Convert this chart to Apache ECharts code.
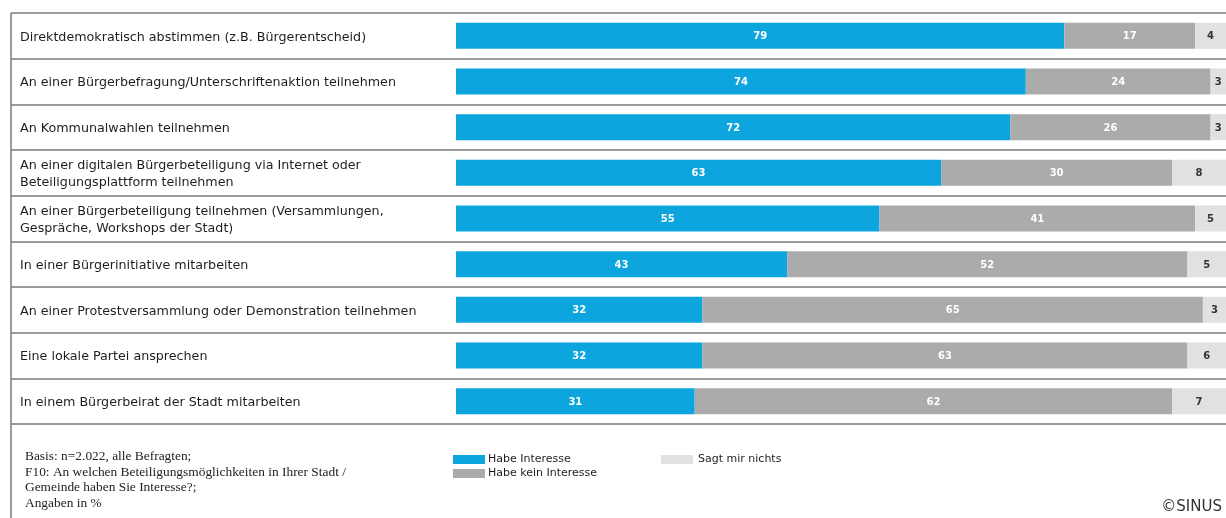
<!DOCTYPE html>
<html>
<head>
<meta charset="utf-8">
<title>Beteiligungsmöglichkeiten</title>
<script src="https://cdn.jsdelivr.net/npm/echarts@6/dist/echarts.min.js"></script>
<style>
  html, body { margin: 0; padding: 0; background: #ffffff; }
  #chart { width: 1226px; height: 518px; }
</style>
</head>
<body>
<div id="chart"></div>
<script>
// Beteiligungsformen (top to bottom)
const categories = [
  'Direktdemokratisch abstimmen (z.B. Bürgerentscheid)',
  'An einer Bürgerbefragung/Unterschriftenaktion teilnehmen',
  'An Kommunalwahlen teilnehmen',
  'An einer digitalen Bürgerbeteiligung via Internet oder\nBeteiligungsplattform teilnehmen',
  'An einer Bürgerbeteiligung teilnehmen (Versammlungen,\nGespräche, Workshops der Stadt)',
  'In einer Bürgerinitiative mitarbeiten',
  'An einer Protestversammlung oder Demonstration teilnehmen',
  'Eine lokale Partei ansprechen',
  'In einem Bürgerbeirat der Stadt mitarbeiten'
];

// Angaben in %
const habeInteresse = [79, 74, 72, 63, 55, 43, 32, 32, 31];
const habeKeinInteresse = [17, 24, 26, 30, 41, 52, 65, 63, 62];
const sagtMirNichts = [4, 3, 3, 8, 5, 5, 3, 6, 7];

const seriesNames = ['Habe Interesse', 'Habe kein Interesse', 'Sagt mir nichts'];

const footnote = [
  'Basis: n=2.022, alle Befragten;',
  'F10: An welchen Beteiligungsmöglichkeiten in Ihrer Stadt /',
  'Gemeinde haben Sie Interesse?;',
  'Angaben in %'
];

const BLUE = '#0ca5de';
const GREY = '#ababab';
const LIGHT = '#e1e1e1';
const SANS = '"DejaVu Sans", Verdana, sans-serif';
const SERIF = '"Liberation Serif", "DejaVu Serif", serif';

const chart = echarts.init(document.getElementById('chart'), null, { renderer: 'canvas' });

function barSeries(name, data, color, labelColor) {
  return {
    name: name,
    type: 'bar',
    stack: 'total',
    xAxisIndex: 1,
    yAxisIndex: 1,
    barWidth: 26,
    data: data,
    itemStyle: { color: color },
    label: {
      show: true,
      position: 'inside',
      offset: [0, 1],
      color: labelColor,
      fontFamily: SANS,
      fontSize: 10,
      fontWeight: 'bold'
    },
    emphasis: { disabled: true },
    animation: false
  };
}

chart.setOption({
  animation: false,
  grid: [
    // full-width row frame with the separator lines
    { left: 11, right: 0, top: 13, bottom: 94, containLabel: false },
    // bar area
    { left: 456, right: -1, top: 13, bottom: 94, containLabel: false },
    // row labels, set a touch lower than the frame
    { left: 11, right: 0, top: 14.5, bottom: 92.5, containLabel: false }
  ],
  xAxis: [
    { gridIndex: 0, type: 'value', min: 0, max: 1, show: false },
    { gridIndex: 1, type: 'value', min: 0, max: 100, show: false },
    { gridIndex: 2, type: 'value', min: 0, max: 1, show: false }
  ],
  yAxis: [
    {
      gridIndex: 0,
      type: 'category',
      inverse: true,
      data: categories,
      axisLine: { show: false },
      axisTick: { show: false },
      axisLabel: { show: false },
      splitLine: {
        show: true,
        showMinLine: true,
        showMaxLine: true,
        lineStyle: { color: '#7a7a7a', width: 1.5 }
      }
    },
    {
      gridIndex: 1,
      type: 'category',
      inverse: true,
      data: categories,
      show: false
    },
    {
      gridIndex: 2,
      type: 'category',
      inverse: true,
      data: categories,
      axisLine: { show: false },
      axisTick: { show: false },
      splitLine: { show: false },
      axisLabel: {
        inside: true,
        margin: 9,
        color: '#1e1e1e',
        fontFamily: SANS,
        fontSize: 12.7,
        lineHeight: 17,
        align: 'left'
      }
    }
  ],
  legend: [
    {
      data: seriesNames.slice(0, 2),
      orient: 'vertical',
      left: 448,
      top: 449,
      itemWidth: 32,
      itemHeight: 9,
      itemGap: 3,
      icon: 'rect',
      selectedMode: false,
      textStyle: { fontFamily: SANS, fontSize: 11, color: '#1e1e1e', padding: [0, 0, 0, -2] }
    },
    {
      data: seriesNames.slice(2),
      orient: 'vertical',
      left: 656,
      top: 449,
      itemWidth: 32,
      itemHeight: 9,
      icon: 'rect',
      selectedMode: false,
      textStyle: { fontFamily: SANS, fontSize: 11, color: '#1e1e1e', padding: [0, 0, 0, 0] }
    }
  ],
  graphic: [
    {
      type: 'line',
      shape: { x1: 11, y1: 13, x2: 11, y2: 518 },
      style: { stroke: '#7a7a7a', lineWidth: 1.5 }
    },
    {
      type: 'text',
      left: 25,
      top: 449,
      style: {
        text: footnote.join('\n'),
        font: '13.4px ' + SERIF,
        lineHeight: 15.5,
        fill: '#222222'
      }
    },
    {
      type: 'text',
      right: 4,
      top: 500,
      style: {
        text: '©SINUS',
        font: '15px ' + SANS,
        fill: '#333333'
      }
    }
  ],
  series: [
    barSeries(seriesNames[0], habeInteresse, BLUE, '#ffffff'),
    barSeries(seriesNames[1], habeKeinInteresse, GREY, '#ffffff'),
    barSeries(seriesNames[2], sagtMirNichts, LIGHT, '#333333')
  ]
});
</script>
</body>
</html>
